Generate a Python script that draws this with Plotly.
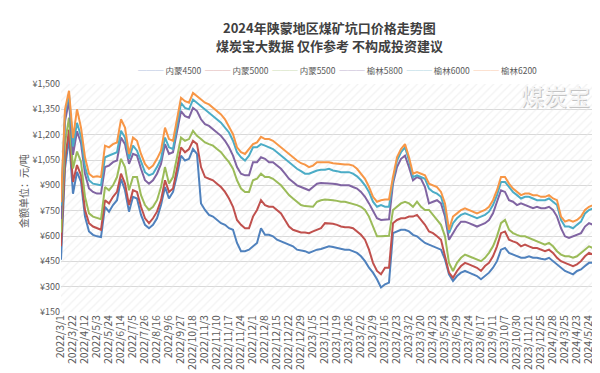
import plotly.graph_objects as go

# ---------------- data ----------------
series_names = ["内蒙4500", "内蒙5000", "内蒙5500", "榆林5800", "榆林6000", "榆林6200"]
series_colors = ["#4F81BD", "#C0504D", "#9BBB59", "#8064A2", "#4BACC6", "#F79646"]

tick_labels = [
    "2022/3/1", "2022/3/22", "2022/4/12", "2022/5/3", "2022/5/24", "2022/6/14", "2022/7/5",
    "2022/7/26", "2022/8/16", "2022/9/6", "2022/9/27", "2022/10/18", "2022/11/3", "2022/11/10",
    "2022/11/17", "2022/11/24", "2022/12/1", "2022/12/8", "2022/12/15", "2022/12/22", "2022/12/29",
    "2023/1/5", "2023/1/12", "2023/1/19", "2023/1/26", "2023/2/2", "2023/2/9", "2023/2/16",
    "2023/2/23", "2023/3/2", "2023/3/20", "2023/4/23", "2023/5/24", "2023/6/29", "2023/7/24",
    "2023/8/17", "2023/9/11", "2023/10/7", "2023/10/30", "2023/11/21", "2023/12/25",
    "2024/2/28", "2024/3/25", "2024/4/23", "2024/5/24",
]
label_every = 3  # one tick label every 3 data points

nm4500 = [
    460, 1000, 1180, 850, 980, 920, 715, 627, 607, 598,
    594, 773, 744, 783, 812, 939, 871, 744, 832, 822,
    725, 666, 646, 666, 705, 783, 890, 822, 861, 959,
    1076, 1047, 1057, 1115, 1086, 793, 754, 725, 715, 695,
    676, 666, 646, 637, 559, 510, 510, 519, 539, 559,
    646, 607, 607, 598, 578, 568, 559, 549, 539, 519,
    515, 510, 500, 510, 519, 523, 529, 539, 535, 529,
    523, 519, 519, 510, 500, 480, 451, 412, 383, 344,
    295, 314, 324, 617, 627, 637, 637, 627, 607, 598,
    578, 559, 549, 539, 529, 519, 461, 373, 334, 363,
    383, 393, 383, 373, 363, 344, 363, 383, 412, 451,
    519, 529, 500, 490, 480, 471, 471, 480, 471, 471,
    465, 461, 471, 451, 432, 412, 393, 383, 373, 393,
    402, 422, 441, 441, 432,
]
nm5000 = [
    540, 1050, 1230, 920, 1020, 960, 754, 676, 656, 646,
    637, 812, 793, 832, 861, 969, 910, 783, 871, 861,
    773, 705, 676, 705, 744, 812, 930, 861, 881, 998,
    1125, 1096, 1115, 1164, 1144, 1008, 949, 939, 930, 910,
    890, 861, 822, 773, 695, 666, 646, 646, 715, 754,
    812, 783, 773, 773, 754, 734, 695, 656, 637, 627,
    621, 621, 617, 627, 637, 646, 676, 676, 672, 666,
    656, 652, 652, 646, 627, 607, 578, 519, 441, 393,
    373, 412, 412, 676, 695, 705, 705, 715, 715, 725,
    695, 666, 627, 617, 598, 578, 480, 383, 353, 393,
    422, 441, 432, 422, 412, 393, 422, 441, 480, 539,
    617, 627, 578, 568, 559, 539, 549, 539, 529, 529,
    519, 510, 519, 500, 471, 451, 441, 432, 422, 432,
    451, 480, 500, 490, 480,
]
nm5500 = [
    620, 1150, 1300, 1000, 1100, 1040, 832, 734, 715, 705,
    699, 890, 871, 900, 949, 1057, 1008, 871, 949, 949,
    842, 783, 754, 773, 812, 890, 1008, 910, 949, 1066,
    1183, 1164, 1174, 1223, 1193, 1174, 1154, 1144, 1135, 1115,
    1096, 1066, 1037, 998, 930, 881, 861, 861, 930, 939,
    969, 949, 949, 939, 920, 900, 871, 842, 822, 803,
    783, 777, 773, 773, 803, 812, 816, 816, 812, 808,
    803, 803, 797, 793, 783, 773, 754, 715, 656, 598,
    598, 601, 601, 754, 773, 793, 803, 793, 773, 803,
    773, 754, 754, 725, 695, 666, 598, 441, 393, 441,
    471, 490, 480, 471, 461, 451, 471, 500, 539, 598,
    676, 695, 637, 617, 607, 598, 598, 588, 578, 568,
    559, 549, 559, 539, 510, 490, 480, 480, 471, 480,
    500, 519, 539, 529, 529,
]
yl5800 = [
    700, 1280, 1400, 1080, 1220, 1150, 969, 881, 861, 851,
    851, 1008, 1017, 1037, 1047, 1183, 1144, 1027, 1086, 1076,
    998, 930, 910, 930, 969, 1027, 1144, 1086, 1096, 1213,
    1340, 1310, 1301, 1359, 1340, 1291, 1262, 1252, 1232, 1213,
    1193, 1164, 1125, 1076, 1008, 969, 959, 959, 1037, 1037,
    1066, 1057, 1037, 1037, 1017, 998, 969, 939, 920, 900,
    890, 881, 871, 890, 910, 914, 914, 914, 910, 906,
    900, 900, 900, 890, 881, 861, 832, 793, 744, 705,
    695, 695, 699, 910, 1008, 1057, 1076, 1008, 930, 949,
    939, 890, 793, 803, 812, 793, 715, 578, 617, 656,
    685, 685, 676, 666, 656, 666, 676, 695, 734, 803,
    871, 861, 812, 803, 783, 793, 783, 773, 764, 773,
    764, 764, 773, 754, 715, 646, 598, 588, 598, 607,
    617, 656, 676, 666, 695,
]
yl6000 = [
    780, 1330, 1440, 1130, 1270, 1190, 1008, 930, 910, 906,
    900, 1066, 1076, 1086, 1096, 1223, 1183, 1057, 1135, 1105,
    1037, 978, 959, 969, 1008, 1057, 1183, 1125, 1115, 1262,
    1389, 1359, 1350, 1408, 1389, 1369, 1350, 1330, 1310, 1291,
    1271, 1242, 1213, 1164, 1096, 1066, 1047, 1076, 1125, 1125,
    1144, 1135, 1125, 1115, 1096, 1076, 1057, 1037, 1017, 998,
    984, 969, 969, 978, 988, 992, 992, 998, 988, 984,
    978, 978, 978, 969, 953, 930, 900, 861, 803, 773,
    783, 773, 773, 930, 1047, 1096, 1125, 1047, 949, 959,
    949, 939, 881, 861, 851, 832, 754, 617, 676, 705,
    725, 734, 725, 715, 705, 715, 725, 744, 783, 842,
    920, 920, 890, 861, 842, 822, 832, 832, 822, 812,
    812, 812, 822, 803, 783, 695, 656, 656, 646, 666,
    685, 734, 754, 764, 764,
]
yl6200 = [
    800, 1350, 1460, 1180, 1350, 1242, 1066, 969, 949, 953,
    949, 1135, 1125, 1144, 1154, 1291, 1242, 1086, 1183, 1164,
    1086, 1027, 998, 1017, 1057, 1105, 1242, 1174, 1164, 1301,
    1418, 1398, 1389, 1447, 1428, 1408, 1389, 1379, 1359, 1340,
    1320, 1291, 1242, 1203, 1125, 1096, 1086, 1115, 1144, 1154,
    1187, 1174, 1174, 1164, 1144, 1125, 1105, 1086, 1066, 1047,
    1031, 1023, 1008, 1017, 1037, 1037, 1037, 1037, 1031, 1027,
    1023, 1023, 1023, 1017, 998, 969, 939, 890, 832, 803,
    812, 816, 816, 949, 1066, 1115, 1144, 1066, 969, 978,
    969, 959, 910, 900, 890, 861, 793, 637, 715, 734,
    754, 764, 754, 744, 734, 744, 754, 773, 812, 871,
    949, 949, 910, 881, 861, 842, 851, 851, 842, 842,
    832, 832, 842, 822, 812, 715, 685, 695, 685, 695,
    715, 754, 773, 783, 793,
]
series_values = [nm4500, nm5000, nm5500, yl5800, yl6000, yl6200]

y_min, y_max, y_step = 150, 1500, 150

# ---------------- figure ----------------
FONT = "Noto Sans CJK SC"
n = len(nm4500)
x_idx = list(range(n))

fig = go.Figure()

# hatched plot-area background
fig.add_trace(go.Scatter(
    x=[0, n - 1, n - 1, 0, 0], y=[y_min, y_min, y_max, y_max, y_min],
    mode="none", fill="toself", fillcolor="rgba(0,0,0,0)",
    fillpattern=dict(shape="/", fgcolor="#e6e6e6", bgcolor="rgba(0,0,0,0)", size=6, solidity=0.22),
    hoverinfo="skip", showlegend=False,
))

for name, color, vals in zip(series_names, series_colors, series_values):
    fig.add_trace(go.Scatter(
        x=x_idx, y=vals, mode="lines", name=name,
        line=dict(color=color, width=2), showlegend=False,
    ))

tickvals = [i * label_every for i in range(len(tick_labels))]

fig.update_xaxes(
    range=[0, n - 1], tickmode="array", tickvals=tickvals, ticktext=tick_labels,
    tickangle=-90, tickfont=dict(family=FONT, size=10.5, color="#595959"),
    showgrid=False, zeroline=False, showline=False, ticks="",
)
fig.update_yaxes(
    range=[y_min, y_max], dtick=y_step, tick0=y_min, tickprefix="¥", tickformat=",.0f",
    tickfont=dict(family=FONT, size=9, color="#595959"),
    showgrid=True, gridcolor="#d9d9d9", gridwidth=1, zeroline=False, showline=False, ticks="",
)

# custom legend line built from names and colours
legend_html = "  ".join(
    f"<span style='color:{c}'>───</span> {nm}" for nm, c in zip(series_names, series_colors)
)

annotations = [
    dict(text="<b>2024年陕蒙地区煤矿坑口价格走势图</b>", xref="paper", yref="paper",
         x=0.5, y=1.250, xanchor="center", yanchor="middle", showarrow=False,
         font=dict(family=FONT, size=13, color="#404040")),
    dict(text="<b>煤炭宝大数据 仅作参考 不构成投资建议</b>", xref="paper", yref="paper",
         x=0.5, y=1.168, xanchor="center", yanchor="middle", showarrow=False,
         font=dict(family=FONT, size=13, color="#404040")),
    dict(text=legend_html, xref="paper", yref="paper", x=0.515, y=1.061,
         xanchor="center", yanchor="middle", showarrow=False,
         font=dict(family=FONT, size=8.5, color="#595959")),
    dict(text="金额单位：元/吨", xref="paper", yref="paper", x=-0.071, y=0.53,
         xanchor="center", yanchor="middle", textangle=-90, showarrow=False,
         font=dict(family=FONT, size=10, color="#595959")),
    # watermark: grey shadow + white face
    dict(text="煤炭宝", xref="paper", yref="paper", x=0.9235, y=0.950,
         xanchor="center", yanchor="middle", showarrow=False, xshift=1, yshift=-1,
         font=dict(family=FONT, size=23, color="#c4c4c4")),
    dict(text="煤炭宝", xref="paper", yref="paper", x=0.9235, y=0.950,
         xanchor="center", yanchor="middle", showarrow=False,
         font=dict(family=FONT, size=23, color="#f4f4f4")),
]

fig.update_layout(
    width=600, height=373,
    margin=dict(l=53, r=11, t=76, b=66),
    paper_bgcolor="white", plot_bgcolor="white",
    showlegend=False,
    annotations=annotations,
)

fig.write_html("out.html")
